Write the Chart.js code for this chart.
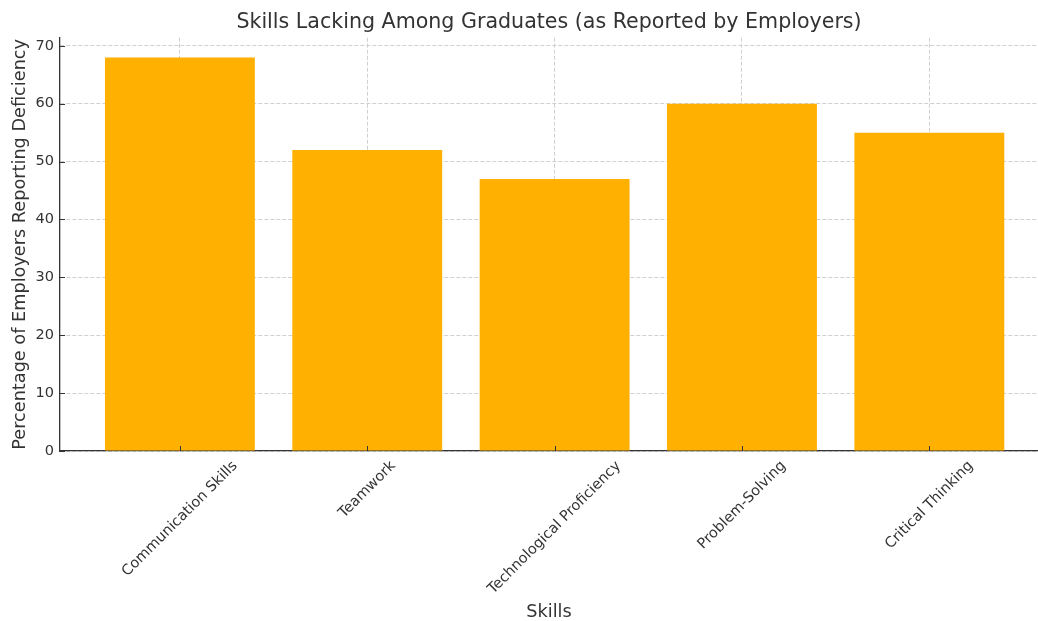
<!DOCTYPE html>
<html>
<head>
<meta charset="utf-8">
<script src="https://cdn.jsdelivr.net/npm/chart.js@4/dist/chart.umd.min.js"></script>
<style>
  html, body { margin: 0; padding: 0; background: #fff; }
  #wrap { width: 1038px; height: 621px; }
</style>
</head>
<body>
<div id="wrap"><canvas id="chart" width="1038" height="621"></canvas></div>
<script>
const skills = ['Communication Skills', 'Teamwork', 'Technological Proficiency', 'Problem-Solving', 'Critical Thinking'];
const deficiency = [68, 52, 47, 60, 55];
const yTicks = [0, 10, 20, 30, 40, 50, 60, 70];

const FONT = "'DejaVu Sans', sans-serif";
const TEXT = '#333';

// rotated category labels, centred under each tick like matplotlib
const tickLabels = {
  id: 'tickLabels',
  afterDraw(chart) {
    const ctx = chart.ctx;
    const x = chart.scales.x, y = chart.scales.y;
    const base = chart.chartArea.bottom;
    ctx.save();
    ctx.strokeStyle = TEXT;
    ctx.lineWidth = 1;
    // inward tick marks
    skills.forEach((s, i) => {
      const px = Math.round(x.getPixelForValue(i)) + 0.5;
      ctx.beginPath(); ctx.moveTo(px, base); ctx.lineTo(px, base - 5); ctx.stroke();
    });
    yTicks.forEach(v => {
      const py = Math.round(y.getPixelForValue(v)) + 0.5;
      ctx.beginPath(); ctx.moveTo(chart.chartArea.left, py); ctx.lineTo(chart.chartArea.left + 5, py); ctx.stroke();
    });
    ctx.font = '14.5px ' + FONT;
    ctx.fillStyle = TEXT;
    ctx.textAlign = 'center';
    ctx.textBaseline = 'middle';
    skills.forEach((s, i) => {
      const px = x.getPixelForValue(i);
      const w = ctx.measureText(s).width;
      const h = 16;
      const cy = base + 7 + (w + h) * Math.SQRT1_2 / 2;
      ctx.save();
      ctx.translate(px, cy);
      ctx.rotate(-Math.PI / 4);
      ctx.fillText(s, 0, 0);
      ctx.restore();
    });
    ctx.restore();
  }
};

new Chart(document.getElementById('chart').getContext('2d'), {
  type: 'bar',
  data: {
    datasets: [{
      data: deficiency.map((v, i) => ({ x: i, y: v })),
      backgroundColor: '#FFB000',
      borderWidth: 0,
      barPercentage: 0.8,
      categoryPercentage: 1.0
    }]
  },
  options: {
    responsive: false,
    animation: false,
    layout: { padding: { left: 0, right: 0, top: 0, bottom: 0 } },
    plugins: {
      legend: { display: false },
      tooltip: { enabled: false },
      title: {
        display: true,
        fullSize: false,
        text: 'Skills Lacking Among Graduates (as Reported by Employers)',
        color: TEXT,
        font: { family: FONT, size: 20.6, weight: 'normal' },
        padding: { top: 10, bottom: 3 }
      }
    },
    scales: {
      x: {
        type: 'linear',
        offset: false,
        min: -0.64,
        max: 4.58,
        z: 1,
        afterBuildTicks: s => { s.ticks = skills.map((c, i) => ({ value: i })); },
        afterFit: s => { s.height = 170; },
        ticks: { display: false },
        grid: { color: '#d0d0d0', lineWidth: 1, drawTicks: false, offset: false },
        border: { display: true, color: TEXT, width: 1.3, dash: [4, 2] },
        title: {
          display: true,
          text: 'Skills',
          color: TEXT,
          font: { family: FONT, size: 17.7 },
          padding: { top: 0, bottom: -2 }
        }
      },
      y: {
        min: 0,
        max: 71.4,
        z: 1,
        afterBuildTicks: s => { s.ticks = yTicks.map(v => ({ value: v })); },
        afterFit: s => { s.width = 60; },
        ticks: {
          color: TEXT,
          font: { family: FONT, size: 14.5 },
          padding: 6
        },
        grid: { color: '#d0d0d0', lineWidth: 1, drawTicks: false },
        border: { display: true, color: TEXT, width: 1.3, dash: [4, 2] },
        title: {
          display: true,
          text: 'Percentage of Employers Reporting Deficiency',
          color: TEXT,
          font: { family: FONT, size: 17.7 },
          padding: { top: 10, bottom: 0 }
        }
      }
    }
  },
  plugins: [tickLabels]
});
</script>
</body>
</html>
